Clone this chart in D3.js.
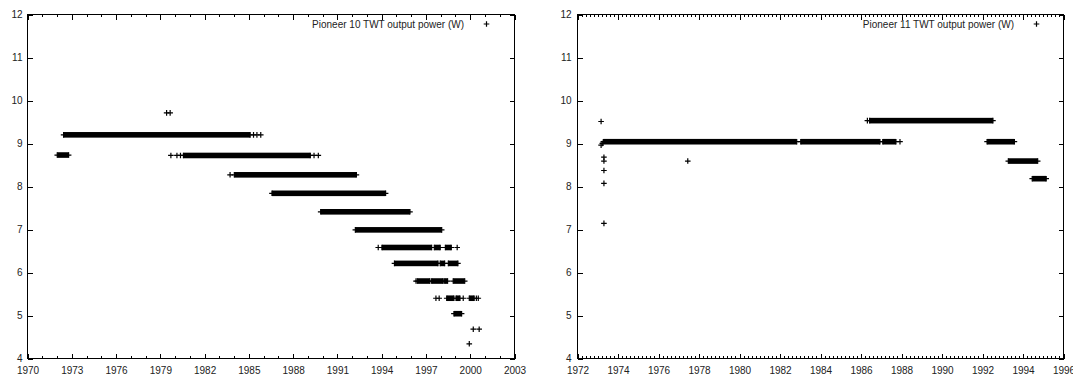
<!DOCTYPE html>
<html><head><meta charset="utf-8">
<script src="https://cdn.jsdelivr.net/npm/d3@7"></script>
<style>
body{margin:0;background:#fff;}
svg{display:block;font-family:"Liberation Sans",Arial,Helvetica,sans-serif;}
</style></head><body>
<svg id="c" width="1073" height="377"></svg>
<script>
// ---- Tick labels ----
const powerTicks = [4, 5, 6, 7, 8, 9, 10, 11, 12];
const p10YearTicks = [1970, 1973, 1976, 1979, 1982, 1985, 1988, 1991, 1994, 1997, 2000, 2003];
const p11YearTicks = [1972, 1974, 1976, 1978, 1980, 1982, 1984, 1986, 1988, 1990, 1992, 1994, 1996];

// ---- Pioneer 10: dense runs of samples (start year, end year, power W) ----
const p10RunStart = [1972.05, 1972.48, 1980.6, 1984.05, 1986.6, 1989.9, 1992.25, 1994.05, 1997.6, 1998.35, 1994.9, 1998.0, 1998.55, 1996.45, 1997.42, 1998.3, 1998.88, 1998.44, 1999.07, 1999.97, 1998.93];
const p10RunEnd   = [1972.82, 1985.12, 1989.2, 1992.32, 1994.3, 1995.95, 1998.1, 1997.42, 1998.0, 1998.75, 1997.85, 1998.3, 1999.2, 1997.3, 1998.2, 1998.5, 1999.66, 1998.93, 1999.34, 2000.3, 1999.45];
const p10RunPower = [8.72, 9.19, 8.71, 8.26, 7.83, 7.40, 6.98, 6.57, 6.57, 6.57, 6.20, 6.20, 6.20, 5.79, 5.79, 5.79, 5.79, 5.39, 5.39, 5.39, 5.03];
// isolated samples
const p10PtYear  = [1979.46, 1979.70, 1985.35, 1985.58, 1985.84, 1979.75, 1980.16, 1980.40, 1989.45, 1989.74, 1983.76, 1993.80, 1999.15, 1996.36, 1997.71, 1997.93, 1999.56, 2000.45, 2000.58, 2000.24, 2000.64, 1999.97];
const p10PtPower = [9.70, 9.70, 9.19, 9.19, 9.19, 8.71, 8.71, 8.71, 8.71, 8.71, 8.26, 6.57, 6.57, 5.79, 5.39, 5.39, 5.39, 5.39, 5.39, 4.67, 4.67, 4.33];

// ---- Pioneer 11 ----
const p11RunStart = [1973.30, 1983.05, 1987.10, 1986.45, 1992.25, 1993.30, 1994.48];
const p11RunEnd   = [1982.85, 1986.96, 1987.75, 1992.54, 1993.60, 1994.75, 1995.17];
const p11RunPower = [9.03, 9.03, 9.03, 9.52, 9.03, 8.58, 8.17];
const p11PtYear  = [1973.19, 1973.19, 1973.25, 1973.33, 1973.33, 1973.33, 1973.33, 1973.33, 1977.47, 1986.34, 1987.95];
const p11PtPower = [9.50, 8.95, 8.99, 8.67, 8.58, 8.36, 8.06, 7.13, 8.58, 9.52, 9.03];

const svg = d3.select("#c");
const plusPath = "M-2.8,0H2.8M0,-2.8V2.8";

function panel(cfg) {
  const x = d3.scaleLinear().domain(cfg.xDomain).range(cfg.xRange);
  const y = d3.scaleLinear().domain([4, 12]).range([358, 14]);
  const g = svg.append("g");

  // frame
  g.append("rect")
    .attr("x", cfg.xRange[0] + 0.5).attr("y", 14.5)
    .attr("width", cfg.xRange[1] - cfg.xRange[0]).attr("height", 344)
    .attr("fill", "none").attr("stroke", "#000").attr("stroke-width", 1)
    .attr("shape-rendering", "crispEdges");

  function styleAxis(sel) {
    sel.select(".domain").remove();
    sel.selectAll("line").attr("stroke", "#000").attr("shape-rendering", "crispEdges");
    sel.selectAll("text").attr("fill", "#222").style("font-size", "10px")
      .style("font-family", '"Liberation Sans", Arial, sans-serif');
  }
  const xa = x.copy().range([cfg.xRange[0] + 0.5, cfg.xRange[1] + 0.5]);
  const ya = y.copy().range([358.5, 14.5]);
  const minor = d3.range(cfg.xDomain[0], cfg.xDomain[1] + 1e-9, cfg.minorStep)
    .map(v => Math.round(v * 100) / 100);

  // bottom axis
  g.append("g").attr("transform", "translate(0,358.5)")
    .call(d3.axisBottom(xa).tickValues(minor).tickSize(-2.5).tickFormat(""))
    .call(styleAxis);
  g.append("g").attr("transform", "translate(0,358.5)")
    .call(d3.axisBottom(xa).tickValues(cfg.xTicks).tickSize(-5).tickPadding(8).tickFormat(d3.format("d")))
    .call(styleAxis);
  // top axis (mirror)
  g.append("g").attr("transform", "translate(0,14.5)")
    .call(d3.axisTop(xa).tickValues(minor).tickSize(-2.5).tickFormat(""))
    .call(styleAxis);
  g.append("g").attr("transform", "translate(0,14.5)")
    .call(d3.axisTop(xa).tickValues(cfg.xTicks).tickSize(-5).tickFormat(""))
    .call(styleAxis);
  // left axis
  g.append("g").attr("transform", `translate(${cfg.xRange[0] + 0.5},0)`)
    .call(d3.axisLeft(ya).tickValues(powerTicks).tickSize(-5).tickPadding(cfg.yPad).tickFormat(d3.format("d")))
    .call(styleAxis);
  // right axis (mirror)
  g.append("g").attr("transform", `translate(${cfg.xRange[1] + 0.5},0)`)
    .call(d3.axisRight(ya).tickValues(powerTicks).tickSize(-5).tickFormat(""))
    .call(styleAxis);

  // dense runs
  const runs = cfg.runStart.map((s, i) => ({ s, e: cfg.runEnd[i], v: cfg.runPower[i] }));
  g.append("g").selectAll("rect").data(runs).join("rect")
    .attr("x", d => x(d.s)).attr("width", d => Math.max(0.5, x(d.e) - x(d.s)))
    .attr("y", d => y(d.v) - 2.8).attr("height", 5.6)
    .attr("fill", "#000");
  const ends = runs.flatMap(d => [{ t: d.s, v: d.v }, { t: d.e, v: d.v }]);
  g.append("g").selectAll("path").data(ends).join("path")
    .attr("d", plusPath).attr("transform", d => `translate(${x(d.t)},${y(d.v)})`)
    .attr("stroke", "#000").attr("stroke-width", 1.2).attr("fill", "none");

  // isolated samples
  const pts = cfg.ptYear.map((t, i) => ({ t, v: cfg.ptPower[i] }));
  g.append("g").selectAll("path").data(pts).join("path")
    .attr("d", plusPath).attr("transform", d => `translate(${x(d.t)},${y(d.v)})`)
    .attr("stroke", "#000").attr("stroke-width", 1.2).attr("fill", "none");

  // legend
  g.append("text").attr("x", cfg.legendX).attr("y", 27.5).attr("text-anchor", "end")
    .attr("fill", "#222").style("font-size", "10px").text(cfg.label);
  g.append("path").attr("d", plusPath).attr("transform", `translate(${cfg.legendX + 22.5},24)`)
    .attr("stroke", "#000").attr("stroke-width", 1.2).attr("fill", "none");
}

panel({
  xDomain: [1970, 2003], xRange: [27, 514], xTicks: p10YearTicks, minorStep: 1, yPad: 5,
  runStart: p10RunStart, runEnd: p10RunEnd, runPower: p10RunPower,
  ptYear: p10PtYear, ptPower: p10PtPower,
  label: "Pioneer 10 TWT output power (W)", legendX: 464
});
panel({
  xDomain: [1972, 1996], xRange: [577, 1063], xTicks: p11YearTicks, minorStep: 0.2, yPad: 6,
  runStart: p11RunStart, runEnd: p11RunEnd, runPower: p11RunPower,
  ptYear: p11PtYear, ptPower: p11PtPower,
  label: "Pioneer 11 TWT output power (W)", legendX: 1014
});
</script>
</body></html>
